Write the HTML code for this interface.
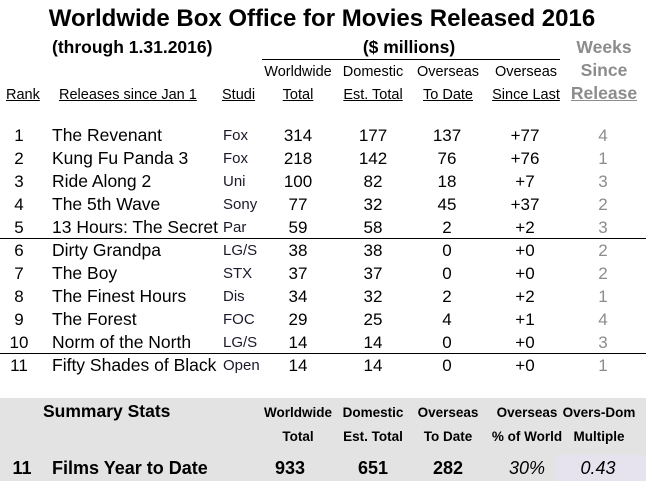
<!DOCTYPE html>
<html><head><meta charset="utf-8">
<style>
body{margin:0;width:646px;height:481px;background:#fff;position:relative;overflow:hidden;font-family:"Liberation Sans",Arial,sans-serif;color:#000}
.a{position:absolute;white-space:nowrap;line-height:1}
.c{transform:translateX(-50%)}
.u{text-decoration:underline}
.g{color:#8c8c8c}
.b{font-weight:bold}
.line{position:absolute;background:#000;height:1px}
</style></head><body>
<div class="a b c" style="left:322px;top:7px;font-size:24px">Worldwide Box Office for Movies Released 2016</div>
<div class="a b" style="left:52px;top:39px;font-size:17.5px">(through 1.31.2016)</div>
<div class="a b c" style="left:409px;top:39px;font-size:17.5px">($ millions)</div>
<div class="line" style="left:262px;top:59px;width:298px"></div>
<div class="a b c g" style="left:604px;top:39px;font-size:17.5px">Weeks</div>
<div class="a b c g" style="left:604px;top:62px;font-size:17.5px">Since</div>
<div class="a b c g u" style="left:604px;top:85px;font-size:17.5px">Release</div>
<div class="a c" style="left:298px;top:65px;font-size:14.5px">Worldwide</div>
<div class="a c" style="left:373px;top:65px;font-size:14.5px">Domestic</div>
<div class="a c" style="left:448px;top:65px;font-size:14.5px">Overseas</div>
<div class="a c" style="left:526px;top:65px;font-size:14.5px">Overseas</div>
<div class="a u" style="left:6px;top:88px;font-size:14.5px">Rank</div>
<div class="a u" style="left:59px;top:88px;font-size:14.5px">Releases since Jan 1</div>
<div class="a u" style="left:222px;top:88px;font-size:14.5px;width:39px;overflow:hidden">Studi</div>
<div class="a u c" style="left:298px;top:88px;font-size:14.5px">Total</div>
<div class="a u c" style="left:373px;top:88px;font-size:14.5px">Est. Total</div>
<div class="a u c" style="left:448px;top:88px;font-size:14.5px">To Date</div>
<div class="a u c" style="left:526px;top:88px;font-size:14.5px">Since Last</div>
<div class="line" style="left:0;top:238px;width:646px"></div>
<div class="line" style="left:0;top:353px;width:646px"></div>
<div id="rows"></div>
<div style="position:absolute;left:0;top:398px;width:646px;height:83px;background:#e3e3e3"></div>
<div style="position:absolute;left:556px;top:455px;width:90px;height:26px;background:#e6e3ee"></div>
<div class="a b" style="left:43px;top:403px;font-size:17.5px">Summary Stats</div>
<div id="sum"></div>
<script>
const ranks=[1,2,3,4,5,6,7,8,9,10,11];
const titles=["The Revenant","Kung Fu Panda 3","Ride Along 2","The 5th Wave","13 Hours: The Secret Soldiers of Benghazi","Dirty Grandpa","The Boy","The Finest Hours","The Forest","Norm of the North","Fifty Shades of Black"];
const studios=["Fox","Fox","Uni","Sony","Par","LG/S","STX","Dis","FOC","LG/S","Open"];
const worldwide=[314,218,100,77,59,38,37,34,29,14,14];
const domestic=[177,142,82,32,58,38,37,32,25,14,14];
const overseas=[137,76,18,45,2,0,0,2,4,0,0];
const sinceLast=["+77","+76","+7","+37","+2","+0","+0","+2","+1","+0","+0"];
const weeks=[4,1,3,2,3,2,2,1,4,3,1];
const sumHeads1=["Worldwide","Domestic","Overseas","Overseas","Overs-Dom"];
const sumHeads2=["Total","Est. Total","To Date","% of World","Multiple"];
const sumVals=["933","651","282","30%","0.43"];
const sumHX=[298,373,448,527,599];
const sumVX=[290,373,448,527,598];
const R=document.getElementById('rows');
function cell(parent,txt,left,top,size,cls,name,extra){
  const d=document.createElement('div');
  d.className='a '+cls;
  
  
  d.textContent=txt;
  d.style.left=left+'px';d.style.top=top+'px';d.style.fontSize=size+'px';
  if(extra)Object.assign(d.style,extra);
  parent.appendChild(d);return d;
}
ranks.forEach((r,i)=>{
  const y=127+i*23;
  cell(R,r,19,y,17,'c','rank-'+r);
  cell(R,titles[i],52,y,17.5,'','title-'+r,{width:'167px',overflow:'hidden'});
  cell(R,studios[i],223,y+1,15,'','studio-'+r,{color:'#1a1a2a'});
  cell(R,worldwide[i],298,y,17,'c','worldwide-'+r);
  cell(R,domestic[i],373,y,17,'c','domestic-'+r);
  cell(R,overseas[i],447,y,17,'c','overseas-'+r);
  cell(R,sinceLast[i],525,y,17,'c','since-last-'+r);
  cell(R,weeks[i],603,y,17,'c g','weeks-'+r);
});
const S=document.getElementById('sum');
sumHeads1.forEach((t,i)=>{
  cell(S,t,sumHX[i],406,13.5,'b c','summary-head-'+i);
  cell(S,sumHeads2[i],sumHX[i],430,13.5,'b c','summary-sub-'+i);
  const it=i>=3;
  cell(S,sumVals[i],sumVX[i],459,18,(it?'':'b ')+'c','summary-value-'+i,it?{fontStyle:'italic'}:null);
});
cell(S,'11',22,459,18,'b c','summary-count');
cell(S,'Films Year to Date',52,459,18,'b','summary-label');
</script>
</body></html>
